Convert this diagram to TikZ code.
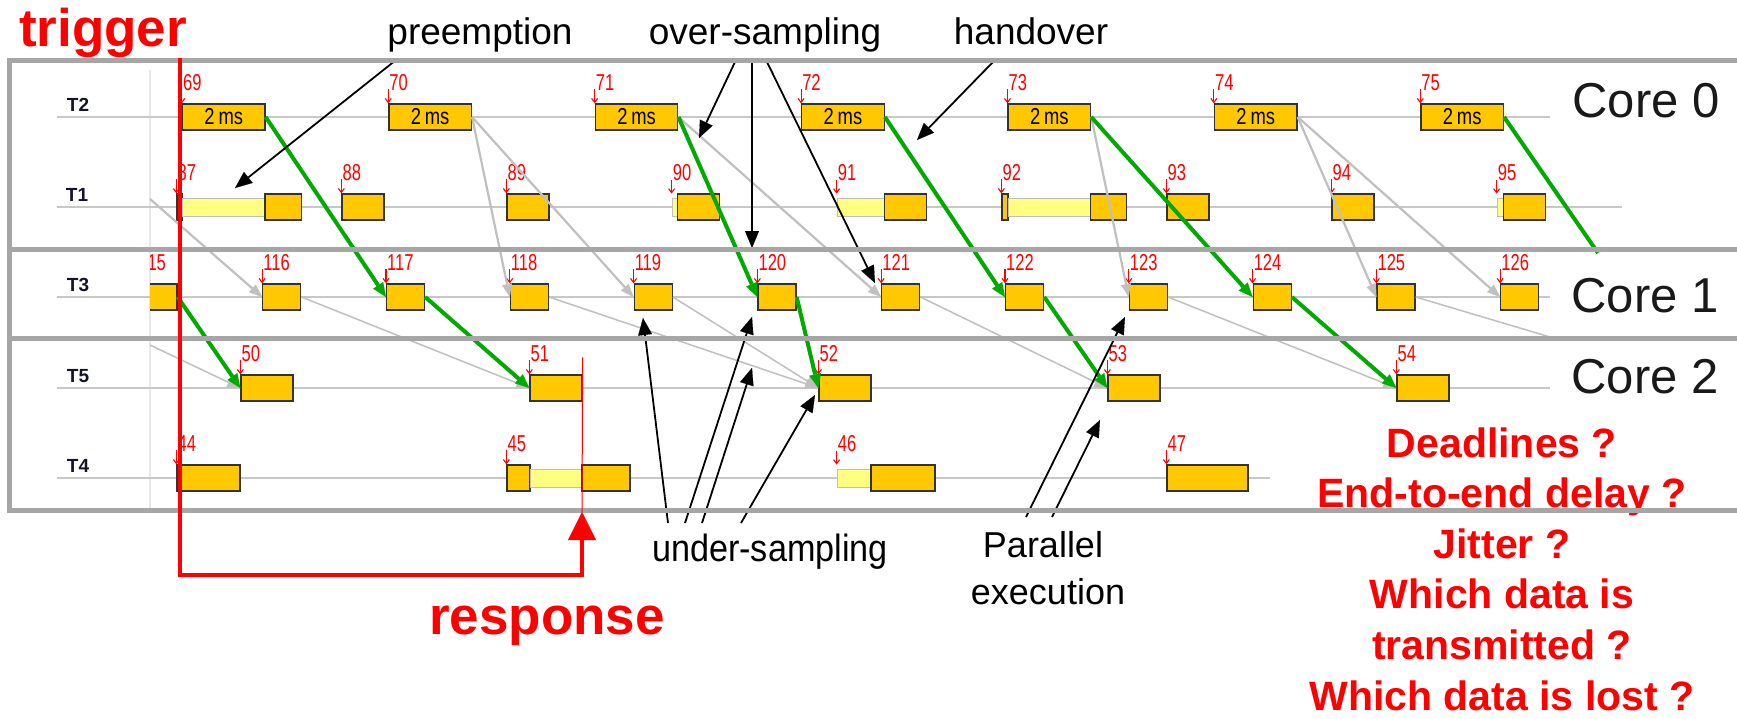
\documentclass[tikz,border=0pt]{standalone}
\usepackage{fontspec}
\setmainfont{Liberation Sans}
\newfontfamily\narrowfont[FakeStretch=0.8]{Liberation Sans}
\newfontfamily\numfont[FakeStretch=0.72]{Liberation Sans}
\newfontfamily\slimfont[FakeStretch=0.9]{Liberation Sans}
\usetikzlibrary{arrows.meta}

\definecolor{framegray}{RGB}{166,166,166}
\definecolor{rowgray}{RGB}{200,200,200}
\definecolor{gridgray}{RGB}{232,232,232}
\definecolor{flowgray}{RGB}{192,192,192}
\definecolor{handgreen}{RGB}{0,170,0}
\definecolor{jobfill}{RGB}{255,200,0}
\definecolor{waitfill}{RGB}{255,255,130}
\definecolor{alertred}{RGB}{255,0,0}
\definecolor{taskink}{RGB}{20,20,40}

\tikzset{
  jobbox/.style={draw=black!80, line width=1.3pt, fill=jobfill, minimum height=26pt,
    inner sep=0pt, font=\narrowfont\fontsize{23}{23}\selectfont},
  waitbar/.style={draw=black!25, line width=0.8pt, fill=waitfill, minimum height=18pt, inner sep=0pt},
  jobnum/.style={text=alertred, inner sep=0pt, anchor=base west, font=\numfont\fontsize{23}{23}\selectfont},
  relarrow/.style={draw=alertred, line width=1.1pt, -{Straight Barb[length=4pt,width=6pt]}},
  tasklabel/.style={text=taskink, inner sep=0pt, font=\bfseries\fontsize{19}{19}\selectfont},
  rowline/.style={draw=rowgray, line width=1.6pt},
  flow/.style={draw=flowgray, line width=2.2pt, -{Triangle[length=13pt,width=10pt,line width=0.1pt]}},
  thinflow/.style={draw=flowgray, line width=1.5pt, -{Triangle[length=13pt,width=10pt,line width=0.1pt]}},
  handflow/.style={draw=handgreen, line width=4pt, -{Triangle[length=14pt,width=12pt,line width=0.1pt]}},
  callout/.style={draw=black, line width=1.8pt, -{Triangle[length=17pt,width=14pt,line width=0.1pt]}},
  note/.style={inner sep=0pt, anchor=base, font=\fontsize{37}{44}\selectfont},
  corelabel/.style={inner sep=0pt, anchor=base, text=black!90, font=\fontsize{49}{49}\selectfont},
  bigred/.style={inner sep=0pt, anchor=base, text=alertred, font=\bfseries\fontsize{53}{53}\selectfont},
  question/.style={inner sep=0pt, anchor=base, text=alertred, font=\bfseries\fontsize{41}{51}\selectfont},
  frameline/.style={draw=framegray, line width=5pt},
  trigline/.style={draw=alertred, line width=4.5pt, -{Triangle[length=28pt,width=28pt,line width=0.1pt]}},
}

% one execution segment: [style]{name}{left}{right}{row}{text}
\newcommand{\jobseg}[6][jobbox]{%
  \pgfmathsetmacro{\segw}{#4-#3}%
  \pgfmathsetmacro{\segx}{(#3+#4)/2}%
  \node[#1, minimum width=\segw pt] (#2) at (\segx,-#5) {#6};}

% release marker with job number: [extra lift]{segment}{number}
\newcommand{\relmark}[3][0pt]{%
  \node[jobnum] (n#3) at ([xshift=1pt,yshift=13pt+#1]#2.north west) {#3};
  \draw[relarrow] ([yshift=14pt+#1]#2.north west) -- ([yshift=#1]#2.north west);}

\begin{document}
\begin{tikzpicture}[x=1pt,y=1pt]
\useasboundingbox (0,0) rectangle (1737,-718);
\fill[white] (0,0) rectangle (1737,-718);

% time origin and task rows
\draw[draw=gridgray, line width=2pt] (150,-70) -- (150,-508);
\draw[rowline] (57,-117) -- (1550,-117);
\draw[rowline] (57,-207) -- (1622,-207);
\draw[rowline] (57,-297) -- (1550,-297);
\draw[rowline] (57,-388) -- (1550,-388);
\draw[rowline] (57,-478) -- (1270,-478);

\node[tasklabel] (t2) at (78,-105) {T2};
\node[tasklabel] (t1) at (77,-195) {T1};
\node[tasklabel] (t3) at (78,-285) {T3};
\node[tasklabel] (t5) at (78,-376) {T5};
\node[tasklabel] (t4) at (78,-466) {T4};

\begin{scope}
\clip (150,0) rectangle (1737,-718);
% T2
\foreach \n [count=\k from 0] in {69,...,75} {
  \pgfmathsetmacro{\jl}{182.5+206.4*\k}
  \pgfmathsetmacro{\jr}{\jl+82.5}
  \jobseg{j\n}{\jl}{\jr}{117}{2\,ms}
  \relmark{j\n}{\n}
}
% T1
\jobseg{j87a}{177}{182.5}{207}{}
\jobseg[waitbar]{w87}{182.5}{265}{207}{}
\jobseg{j87}{265}{301.5}{207}{}
\jobseg{j88}{342}{384}{207}{}
\jobseg{j89}{507}{549}{207}{}
\jobseg[waitbar]{w90}{672}{677.8}{207}{}
\jobseg{j90}{677.8}{719.8}{207}{}
\jobseg[waitbar]{w91}{837}{884.2}{207}{}
\jobseg{j91}{884.2}{926.2}{207}{}
\jobseg{j92a}{1002}{1008.1}{207}{}
\jobseg[waitbar]{w92}{1008.1}{1090.6}{207}{}
\jobseg{j92}{1090.6}{1126.5}{207}{}
\jobseg{j93}{1167}{1209}{207}{}
\jobseg{j94}{1332}{1374}{207}{}
\jobseg[waitbar]{w95}{1497}{1503.4}{207}{}
\jobseg{j95}{1503.4}{1545.4}{207}{}
\relmark{j87a}{87}
\relmark{j88}{88}
\relmark{j89}{89}
\relmark[4pt]{w90}{90}
\relmark[4pt]{w91}{91}
\relmark{j92a}{92}
\relmark{j93}{93}
\relmark{j94}{94}
\relmark[4pt]{w95}{95}
% T3
\foreach \n [count=\k from 0] in {115,...,126} {
  \pgfmathsetmacro{\jl}{139+123.8*\k}
  \pgfmathsetmacro{\jr}{\jl+38}
  \jobseg{j\n}{\jl}{\jr}{297}{}
  \relmark{j\n}{\n}
}
% T5
\foreach \n [count=\k from 0] in {50,...,54} {
  \pgfmathsetmacro{\jl}{241+289*\k}
  \pgfmathsetmacro{\jr}{\jl+52}
  \jobseg{j\n}{\jl}{\jr}{388}{}
  \relmark{j\n}{\n}
}
% T4
\jobseg{j44}{177}{240}{478}{}
\jobseg{j45a}{507}{530}{478}{}
\jobseg[waitbar]{w45}{530}{582}{478}{}
\jobseg{j45}{582}{630}{478}{}
\jobseg[waitbar]{w46}{837}{871}{478}{}
\jobseg{j46}{871}{935}{478}{}
\jobseg{j47}{1167}{1248}{478}{}
\relmark{j44}{44}
\relmark{j45a}{45}
\relmark[4pt]{w46}{46}
\relmark{j47}{47}
\end{scope}

% data flow between jobs
\coordinate (gin1) at (150,-199);
\coordinate (gin2) at (150,-345);
\coordinate (out125) at (1550,-337);
\coordinate (out75) at (1598,-253);
\draw[flow] (gin1) -- (j116.west);
\draw[thinflow] (gin2) -- (j50.west);
\draw[flow] (j70.east) -- (j118.west);
\draw[flow] (j70.east) -- (j119.west);
\draw[flow] (j71.east) -- (j121.west);
\draw[flow] (j73.east) -- (j123.west);
\draw[flow] (j74.east) -- (j125.west);
\draw[flow] (j74.east) -- (j126.west);
\draw[thinflow] (j116.east) -- (j51.west);
\draw[thinflow] (j118.east) -- (j52.west);
\draw[thinflow] (j119.east) -- (j52.west);
\draw[thinflow] (j121.east) -- (j53.west);
\draw[thinflow] (j123.east) -- (j54.west);
\draw[thinflow, -] (j125.east) -- (out125);

\draw[handflow] (j69.east) -- (j117.west);
\draw[handflow] (j115.east) -- (j50.west);
\draw[handflow] (j117.east) -- (j51.west);
\draw[handflow] (j71.east) -- (j120.west);
\draw[handflow] (j120.east) -- (j52.west);
\draw[handflow] (j72.east) -- (j122.west);
\draw[handflow] (j122.east) -- (j53.west);
\draw[handflow] (j73.east) -- (j124.west);
\draw[handflow] (j124.east) -- (j54.west);
\draw[handflow, -] (j75.east) -- (out75);

% core names and open questions
\node[corelabel] (c0) at (1646,-117) {Core 0};
\node[corelabel] (c1) at (1645,-312) {Core 1};
\node[corelabel] (c2) at (1645,-393) {Core 2};
\node[question] (q1) at (1502,-457) {Deadlines ?};
\node[question] (q2) at (1502,-507.6) {End-to-end delay ?};
\node[question] (q3) at (1502,-558.2) {Jitter ?};
\node[question] (q4) at (1502,-608.8) {Which data is};
\node[question] (q5) at (1502,-659.4) {transmitted ?};
\node[question] (q6) at (1502,-710) {Which data is lost ?};

% annotations
\node[note] (pre) at (480,-44) {preemption};
\node[note] (over) at (765,-44) {over-sampling};
\node[note] (hand) at (1031,-44) {handover};
\node[note, font=\slimfont\fontsize{38}{44}\selectfont] (under) at (770,-561) {under-sampling};
\node[note, font=\fontsize{36}{44}\selectfont] (par) at (1043,-557) {Parallel};
\node[note, font=\fontsize{36}{44}\selectfont] (exe) at (1048,-604) {execution};

\coordinate (preTip) at (235,-188);
\coordinate (overTipA) at (699,-138);
\coordinate (overTipB) at (752,-248);
\coordinate (overTipC) at (875,-283);
\coordinate (handTip) at (917,-140);
\coordinate (underTipA) at (643,-318);
\coordinate (underTipB) at (752,-317);
\coordinate (underTipC) at (752,-368);
\coordinate (underTipD) at (815,-395);
\coordinate (parTipA) at (1125,-317);
\coordinate (parTipB) at (1100,-420);

\draw[callout] ([xshift=-84pt,yshift=-16pt]pre.base) -- (preTip);
\draw[callout] ([xshift=-30pt,yshift=-18pt]over.base) -- (overTipA);
\draw[callout] ([xshift=-13pt,yshift=-18pt]over.base) -- (overTipB);
\draw[callout] ([xshift=2pt,yshift=-18pt]over.base) -- (overTipC);
\draw[callout] ([xshift=-38pt,yshift=-18pt]hand.base) -- (handTip);
\draw[callout] ([xshift=-102pt,yshift=38pt]under.base) -- (underTipA);
\draw[callout] ([xshift=-85pt,yshift=38pt]under.base) -- (underTipB);
\draw[callout] ([xshift=-68pt,yshift=38pt]under.base) -- (underTipC);
\draw[callout] ([xshift=-29pt,yshift=38pt]under.base) -- (underTipD);
\draw[callout] ([xshift=-17pt,yshift=40pt]par.base) -- (parTipA);
\draw[callout] ([xshift=9pt,yshift=40pt]par.base) -- (parTipB);

% core frames
\draw[frameline] (1737,-60) -- (9,-60) -- (9,-510) -- (1737,-510);
\draw[frameline] (9,-249) -- (1737,-249);
\draw[frameline] (9,-338) -- (1737,-338);

% trigger to response
\node[bigred] (trig) at (103,-46) {trigger};
\node[bigred] (resp) at (547,-634) {response};
\coordinate (respTip) at (582,-512);
\draw[draw=alertred, line width=1pt] ([yshift=17pt]j51.north east) -- (respTip);
\draw[trigline] ([xshift=77pt,yshift=-12pt]trig.base) |- ([yshift=-63pt]respTip) -- (respTip);
\end{tikzpicture}
\end{document}
